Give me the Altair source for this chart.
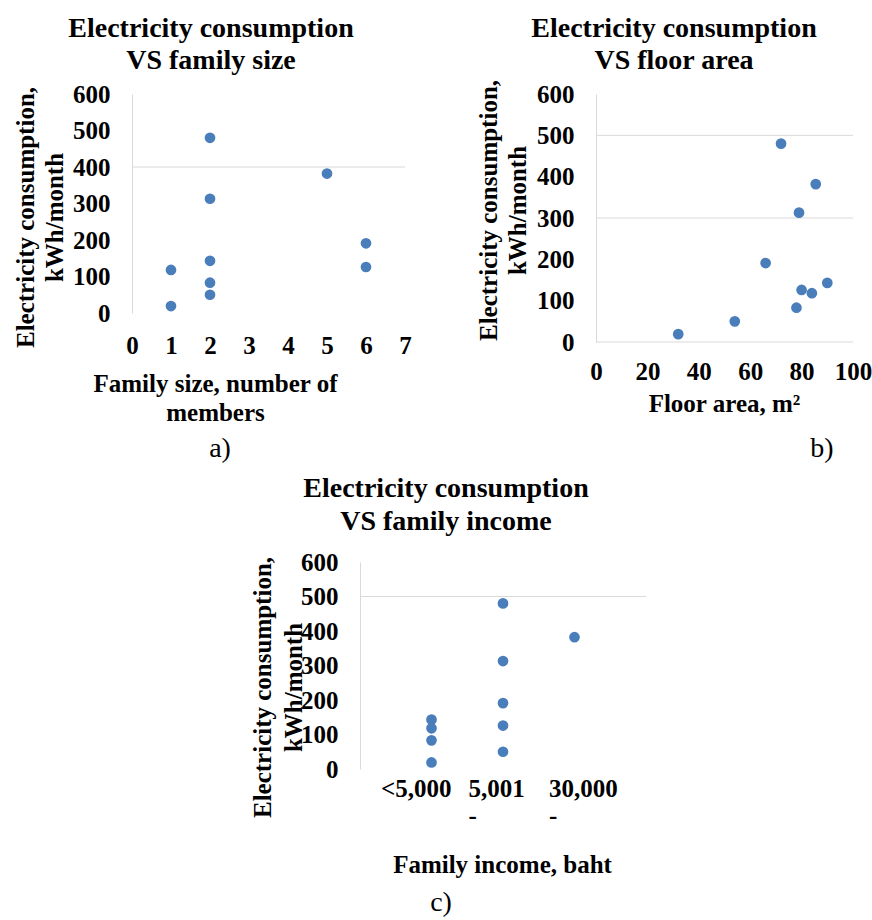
import altair as alt
import pandas as pd

# ---------------- data (one row per household) ----------------
consumption = [480, 382, 313, 191, 143, 126, 118, 83, 50, 19]          # kWh/month
family_size = [2, 5, 2, 6, 2, 6, 1, 2, 2, 1]                            # members
floor_area = [72, 85.5, 79, 66, 90, 80, 84, 78, 54, 32]                 # m2
income = ["5,001 -", "30,000 -", "5,001 -", "5,001 -", "<5,000",
          "5,001 -", "<5,000", "<5,000", "5,001 -", "<5,000"]
income_categories = ["<5,000", "5,001 -", "30,000 -"]

y_ticks = [0, 100, 200, 300, 400, 500, 600]
x_ticks_a = [0, 1, 2, 3, 4, 5, 6, 7]
x_ticks_b = [0, 20, 40, 60, 80, 100]
grid_a = [400]
grid_b = [0, 300, 500]
grid_c = [500]

title_a = ["Electricity consumption", "VS family size"]
title_b = ["Electricity consumption", "VS floor area"]
title_c = ["Electricity consumption", "VS family income"]
y_title = ["Electricity consumption,", "kWh/month"]

df = pd.DataFrame({"consumption": consumption, "family_size": family_size,
                   "floor_area": floor_area, "income": income})

FONT = "Liberation Serif"
BLUE = "#4A7EBB"
GRID = "#D9D9D9"
W, H = 872, 920
PT = 115


def lin(domain, rng):
    return alt.Scale(domain=domain, range=rng, nice=False, zero=False)


def y_axis(offset, title_x, title_y, lh):
    return alt.Axis(orient="left", offset=offset, values=y_ticks, grid=False,
                    ticks=False, tickSize=0, domain=True, domainColor=GRID,
                    domainWidth=1, labelFont=FONT, labelFontSize=25,
                    labelFontWeight="bold", labelColor="black", labelPadding=22,
                    labelOverlap=False, labelFlush=False, title=y_title, titleFont=FONT,
                    titleFontSize=25, titleFontWeight="bold", titleColor="black",
                    titleAngle=270, titleBaseline="top", titleAlign="center",
                    titleX=title_x, titleY=title_y, titleLineHeight=lh)


def x_axis(offset, values, pad, title, title_x, title_y, lh=29, domain=False, **kw):
    return alt.Axis(orient="bottom", offset=offset, values=values, grid=False,
                    ticks=False, tickSize=0, domain=domain, domainColor=GRID,
                    labelFont=FONT, labelFontSize=25, labelFontWeight="bold",
                    labelColor="black", labelPadding=pad, labelAngle=0,
                    labelOverlap=False, labelFlush=False, title=title, titleFont=FONT,
                    titleFontSize=25, titleFontWeight="bold", titleColor="black",
                    titleBaseline="top", titleAlign="center", titleX=title_x,
                    titleY=title_y, titleLineHeight=lh, **kw)


# ---------------- panel a ----------------
ax_a, ay_a = [132, 405], [313, 94]
pts_a = alt.Chart(df).mark_circle(size=PT, opacity=1, color=BLUE).encode(
    x=alt.X("family_size:Q", scale=lin([0, 7], ax_a),
            axis=x_axis(313 - H, x_ticks_a, 20,
                        ["Family size, number of", "members"], 215, 58)),
    y=alt.Y("consumption:Q", scale=lin([0, 600], ay_a),
            axis=y_axis(-132, -119, 217, 29)),
)
grid_a_layer = alt.Chart(pd.DataFrame({"g": grid_a})).mark_rule(color=GRID, strokeWidth=1).encode(
    x=alt.X(datum=0, type="quantitative", scale=lin([0, 7], ax_a), axis=None),
    x2=alt.X2(datum=7),
    y=alt.Y("g:Q", scale=lin([0, 600], ay_a), axis=None),
)

# ---------------- panel b ----------------
ax_b, ay_b = [596, 853], [342, 94]
grid_b_layer = alt.Chart(pd.DataFrame({"g": grid_b})).mark_rule(color=GRID, strokeWidth=1).encode(
    x=alt.X(datum=0, type="quantitative", scale=lin([0, 100], ax_b), axis=None),
    x2=alt.X2(datum=100),
    y=alt.Y("g:Q", scale=lin([0, 600], ay_b), axis=None),
)
pts_b = alt.Chart(df).mark_circle(size=PT, opacity=1, color=BLUE).encode(
    x=alt.X("floor_area:Q", scale=lin([0, 100], ax_b),
            axis=x_axis(342 - H, x_ticks_b, 17, "Floor area, m\u00b2", 724, 49)),
    y=alt.Y("consumption:Q", scale=lin([0, 600], ay_b),
            axis=y_axis(-596, -120, 210, 29)),
)

# ---------------- panel c ----------------
ax_c, ay_c = [360, 646], [769, 562]
grid_c_layer = alt.Chart(pd.DataFrame({"g": grid_c})).mark_rule(color=GRID, strokeWidth=1).encode(
    x=alt.X(datum=0, type="quantitative", scale=lin([0, 4], ax_c), axis=None),
    x2=alt.X2(datum=4),
    y=alt.Y("g:Q", scale=lin([0, 600], ay_c), axis=None),
)
pts_c = alt.Chart(df).mark_circle(size=PT, opacity=1, color=BLUE).encode(
    x=alt.X("income:N", sort=income_categories,
            scale=alt.Scale(type="point", domain=income_categories, range=ax_c, padding=1),
            axis=x_axis(769 - H, income_categories, 7, "Family income, baht", 502, 83,
                        labelExpr="split(datum.label, ' ')", labelAlign="left",
                        labelLineHeight=27,
                        labelOffset={"expr": "datum.value === '<5,000' ? -51 : (datum.value === '5,001 -' ? -35 : -26)"})),
    y=alt.Y("consumption:Q", scale=lin([0, 600], ay_c),
            axis=y_axis(-360, -110, 687, 31)),
)

# ---------------- titles and panel letters ----------------
one = pd.DataFrame({"k": [0]})


def txt(lines, x, y, size, weight, baseline="top", lh=32):
    return alt.Chart(one).mark_text(text=lines, font=FONT, fontSize=size,
                                    fontWeight=weight, color="black", align="center",
                                    baseline=baseline, lineHeight=lh).encode(
        x=alt.value(x), y=alt.value(y))


texts = [
    txt(title_a, 211, 15, 28, "bold"),
    txt(title_b, 674, 15, 28, "bold"),
    txt(title_c, 446, 475, 28, "bold", lh=33),
    txt("a)", 220, 457, 28, "normal", baseline="alphabetic"),
    txt("b)", 822, 457, 28, "normal", baseline="alphabetic"),
    txt("c)", 441, 911, 28, "normal", baseline="alphabetic"),
]

chart = alt.layer(
    grid_a_layer, pts_a, grid_b_layer, pts_b, grid_c_layer, pts_c, *texts
).resolve_scale(x="independent", y="independent").resolve_axis(
    x="independent", y="independent"
).properties(
    width=W, height=H, padding=0, autosize=alt.AutoSizeParams(type="none"),
    background="white"
).configure_view(stroke=None)

chart.save("out.html", embed_options={"renderer": "svg", "actions": False})
